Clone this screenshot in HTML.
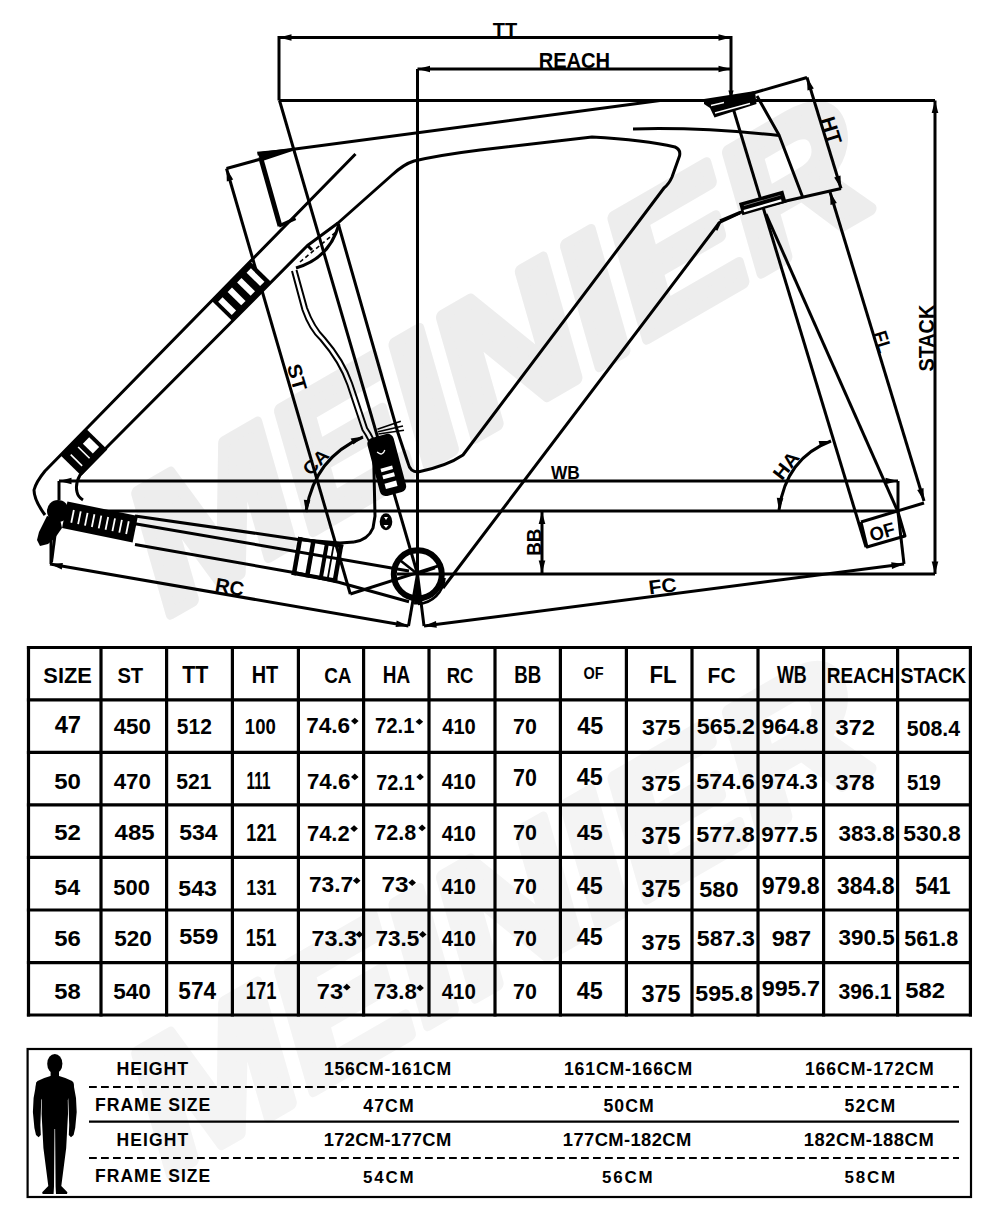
<!DOCTYPE html>
<html><head><meta charset="utf-8"><style>
html,body{margin:0;padding:0;background:#fff;}
body{width:1000px;height:1221px;overflow:hidden;position:relative;}
svg{position:absolute;left:0;top:0;font-family:"Liberation Sans",sans-serif;}
</style></head><body>
<svg width="1000" height="1221" viewBox="0 0 1000 1221">
<text transform="translate(160 620) rotate(-30) skewX(-14)" font-size="178" font-weight="bold" fill="#ededed" stroke="#ededed" stroke-width="11" stroke-linejoin="round" textLength="825" lengthAdjust="spacingAndGlyphs">MEINIER</text>
<text transform="translate(160 1180) rotate(-30) skewX(-14)" font-size="178" font-weight="bold" fill="#f4f4f4" stroke="#f4f4f4" stroke-width="11" stroke-linejoin="round" textLength="825" lengthAdjust="spacingAndGlyphs">MEINIER</text>
<g fill="none" stroke="#000" stroke-width="3.0" stroke-linejoin="round" stroke-linecap="butt">
<polyline points="279.0,37.5 731.0,37.5"/>
<path d="M279.0 37.5L291.5 34.2L291.5 40.8Z" fill="#000" stroke="none"/>
<path d="M731.0 37.5L718.5 40.8L718.5 34.2Z" fill="#000" stroke="none"/>
<polyline points="279.0,36.0 279.0,100.5"/>
<polyline points="417.5,69.0 731.0,69.0"/>
<path d="M417.5 69.0L430.0 65.7L430.0 72.3Z" fill="#000" stroke="none"/>
<path d="M731.0 69.0L718.5 72.3L718.5 65.7Z" fill="#000" stroke="none"/>
<polyline points="731.0,36.0 731.0,99.0"/>
<path d="M731.0 99.5L728.4 90.5L733.6 90.5Z" fill="#000" stroke="none"/>
<polyline points="417.5,69.0 417.5,574.0"/>
<polyline points="279.0,100.5 935.0,100.5"/>
<polyline points="935.0,100.5 935.0,574.0"/>
<path d="M935.0 100.5L938.3 113.0L931.7 113.0Z" fill="#000" stroke="none"/>
<path d="M935.0 574.0L931.7 561.5L938.3 561.5Z" fill="#000" stroke="none"/>
<polyline points="443.0,574.0 935.0,574.0"/>
<polyline points="279.5,100.5 417.5,574.0"/>
<polyline points="59.0,481.0 898.0,481.0"/>
<path d="M59.0 481.0L71.5 477.7L71.5 484.3Z" fill="#000" stroke="none"/>
<path d="M898.0 481.0L885.5 484.3L885.5 477.7Z" fill="#000" stroke="none"/>
<polyline points="59.0,481.0 59.0,500.0"/>
<polyline points="898.0,481.0 898.0,512.0"/>
<polyline points="60.0,511.0 898.0,511.0"/>
<polyline points="542.0,511.5 542.0,573.0"/>
<path d="M542.0 511.5L545.3 524.0L538.7 524.0Z" fill="#000" stroke="none"/>
<path d="M542.0 573.0L538.7 560.5L545.3 560.5Z" fill="#000" stroke="none"/>
<polyline points="807.0,77.5 841.0,188.5"/>
<path d="M807.0 77.5L813.8 88.5L807.5 90.4Z" fill="#000" stroke="none"/>
<path d="M841.0 188.5L834.2 177.5L840.5 175.6Z" fill="#000" stroke="none"/>
<polyline points="729.0,100.0 807.0,77.5"/>
<polyline points="830.0,192.0 924.0,501.0"/>
<path d="M830.0 192.0L836.8 203.0L830.5 204.9Z" fill="#000" stroke="none"/>
<path d="M924.0 501.0L917.2 490.0L923.5 488.1Z" fill="#000" stroke="none"/>
<polyline points="924.0,503.0 861.0,522.0"/>
<polyline points="861.0,522.0 867.0,547.0 905.0,536.0 898.0,512.0"/>
<polyline points="898.0,512.0 904.0,564.0"/>
<polyline points="424.0,626.0 904.0,564.0"/>
<path d="M424.0 626.0L436.0 621.1L436.8 627.7Z" fill="#000" stroke="none"/>
<path d="M904.0 564.0L892.0 568.9L891.2 562.3Z" fill="#000" stroke="none"/>
<polyline points="50.0,564.0 408.5,626.0"/>
<path d="M50.0 564.0L62.9 562.9L61.8 569.4Z" fill="#000" stroke="none"/>
<path d="M408.5 626.0L395.6 627.1L396.7 620.6Z" fill="#000" stroke="none"/>
<polyline points="51.0,538.0 51.0,564.0"/>
<polyline points="226.5,168.5 350.3,594.0"/>
<path d="M226.5 168.5L233.2 179.6L226.8 181.4Z" fill="#000" stroke="none"/>
<polyline points="226.5,168.5 259.0,159.5"/>
<polyline points="350.3,594.0 440.0,565.4"/>
<path d="M363,437 Q314,458 306,512"/>
<path d="M363.5 436.5L353.4 444.5L350.7 438.5Z" fill="#000" stroke="none"/>
<path d="M306.0 512.5L303.8 499.8L310.4 500.3Z" fill="#000" stroke="none"/>
<path d="M779,510 Q786,458 831,441"/>
<path d="M831.5 441.0L820.2 447.3L818.6 441.0Z" fill="#000" stroke="none"/>
<path d="M779.0 510.5L776.8 497.8L783.4 498.3Z" fill="#000" stroke="none"/>
<polyline points="257.5,154.0 660.0,100.5 712.0,100.5"/>
<polyline points="260.5,157.0 280.0,226.0" stroke-width="4.8"/>
<path d="M257,151.8 L292,148.4 L292.5,151 L261,161.5 Z" fill="#000" stroke="none"/>
<polyline points="279.0,226.0 295.5,218.5" stroke-width="3.5"/>
<path d="M338,223 L392,175 Q404,164 414,161 Q440,155 480,150 L592,137 Q645,140 675,147 Q681,149.5 679.5,156 L672,177 Q669,184 664,188 L463,455 Q447,466 418,472 Q410,472 408,463 L398,433 Z"/>
<path d="M355.5,154 L45,471 Q36,482 34,490 Q34,500 45,515"/>
<path d="M338,223 L307.5,245.5 L108,446 L80,475 Q75,484 77,492 Q78,497 83,500"/>
<path d="M296,268 Q330,258 339,224"/>
<path d="M300,262 L336,232" stroke-width="1.6" stroke-dasharray="4 3"/>
<polyline points="307.5,245.5 312.0,250.0"/>
<path d="M292,271 L302.5,310 Q309.5,330 320.5,340 Q339.5,362 347.5,385 L362.5,430 Q369.5,440 372,450" stroke-width="2.0"/>
<path d="M296.5,270 L307,308 Q314,327 325,338 Q344,360 352,383 L367,428 Q374,438 376.5,448" stroke-width="2.0"/>
<polyline points="135.0,516.0 298.0,539.4 340.0,543.0 354.0,542.0"/>
<path d="M354,542 Q368,540 373,528 L375,516 L373.5,450" stroke-width="3.0"/>
<polyline points="135.0,523.7 409.0,571.0"/>
<polyline points="135.0,544.5 298.0,573.2 338.6,582.3 409.0,601.8"/>
<polyline points="740.0,213.0 719.5,222.5 443.0,588.0"/>
<polyline points="719.5,222.5 716.0,230.0"/>
<path d="M633,129 Q700,127 779,135.6"/>
<polyline points="733.0,108.0 866.0,547.0"/>
<polyline points="757.0,96.0 779.0,135.0 803.0,198.0"/>
<polyline points="841.0,188.5 786.0,201.0 740.0,212.5 720.0,221.0"/>
<polyline points="766.0,214.0 898.0,512.0"/>
<path d="M704,99 L755,91 L756.5,104 L714.5,117.5 L710,108 L704,104 Z" fill="#000" stroke="none"/>
<path d="M715,113 L750,103.5" stroke="#fff" stroke-width="1.3"/>
<path d="M711,105.5 L724,102.5" stroke="#fff" stroke-width="1.3"/>
<g transform="translate(763 203.5) rotate(-16)" stroke="none"><rect x="-23" y="-7" width="46" height="12.5" fill="#000"/><rect x="-20.5" y="1" width="39" height="2.2" fill="#fff"/><rect x="-19" y="-3.5" width="38" height="0.7" fill="#888"/></g>
<circle cx="417.8" cy="574.3" r="24" stroke-width="6"/>
<path d="M444.5,578 A28,28 0 0 1 418,604" stroke-width="2.6"/>
<polyline points="401.0,561.0 417.5,574.0 435.0,568.0" stroke-width="2.6"/>
<polyline points="397.0,574.0 440.0,574.0" stroke-width="3.0"/>
<path d="M414,604 L417.5,574 L421,604 Z" stroke-width="1.0" fill="#000"/>
<polyline points="417.5,574.0 408.5,626.0"/>
<polyline points="417.5,574.0 424.0,626.0"/>
<circle cx="58" cy="511" r="11" fill="#000" stroke="none"/>
<path d="M47,516 L60,519 L62,528 L55,538 L48,544 L40,546 L37,540 L39,532 L43,524 Z" fill="#000" stroke="none"/>
<polyline points="55.0,535.0 51.5,562.0" stroke-width="3.0"/>
<g transform="translate(241.5 291.5) rotate(-45.5)" stroke="none"><rect x="-27.5" y="-14.5" width="55.0" height="29.0" fill="#000"/><rect x="-23.6" y="-9.5" width="6.2" height="19.0" fill="#fff"/><rect x="-10.1" y="-9.5" width="6.2" height="19.0" fill="#fff"/><rect x="3.4" y="-9.5" width="6.2" height="19.0" fill="#fff"/><rect x="16.9" y="-9.5" width="6.2" height="19.0" fill="#fff"/></g>
<g transform="translate(84 452.5) rotate(-45.5)" stroke="none"><rect x="-18.5" y="-14.5" width="37" height="29" fill="#000"/><rect x="5.5" y="-7" width="9" height="14" fill="#fff"/><rect x="-11.6" y="-8" width="1.6" height="16" fill="#fff"/><rect x="-1" y="-8" width="1.6" height="16" fill="#fff"/></g>
<g transform="translate(100.0 522.0) rotate(11.5)" stroke="none"><rect x="-36.0" y="-13.5" width="72.0" height="27.0" fill="#000"/><rect x="-28.9" y="-6.5" width="1.8" height="13.0" fill="#fff"/><rect x="-21.9" y="-6.5" width="1.8" height="13.0" fill="#fff"/><rect x="-14.9" y="-6.5" width="1.8" height="13.0" fill="#fff"/><rect x="-7.9" y="-6.5" width="1.8" height="13.0" fill="#fff"/><rect x="-0.9" y="-6.5" width="1.8" height="13.0" fill="#fff"/><rect x="6.1" y="-6.5" width="1.8" height="13.0" fill="#fff"/><rect x="13.1" y="-6.5" width="1.8" height="13.0" fill="#fff"/><rect x="20.1" y="-6.5" width="1.8" height="13.0" fill="#fff"/><rect x="27.1" y="-6.5" width="1.8" height="13.0" fill="#fff"/></g>
<g transform="translate(317.5 559.5) rotate(10)" stroke="none" fill="#000"><rect x="-23" y="-19" width="46" height="3.5"/><rect x="-23" y="15.5" width="46" height="4"/><rect x="-23" y="-19" width="4.5" height="38.5"/><rect x="-9.5" y="-19" width="4.5" height="38.5"/><rect x="4.5" y="-19" width="4" height="38.5"/><rect x="12.5" y="-19" width="1.8" height="38.5"/><rect x="18.5" y="-19" width="4.5" height="38.5"/></g>
<g transform="translate(386.5 464) rotate(-15)"><rect x="-13.5" y="-29" width="27" height="60" rx="6" fill="#000" stroke="none"/><rect x="-7" y="3" width="12" height="3.6" fill="#fff" stroke="none"/><rect x="-7" y="10" width="12" height="4" fill="#fff" stroke="none"/><rect x="-7" y="18.5" width="12" height="5.5" fill="#fff" stroke="none"/><path d="M-6,-14 q4,6 8,0" stroke="#fff" stroke-width="1.3"/></g>
<polyline points="377.4,429.2 400.8,421.2" stroke-width="1.6"/>
<polyline points="378.0,431.8 403.0,426.0" stroke-width="1.6"/>
<polyline points="378.4,434.0 404.0,430.2" stroke-width="1.6"/>
<ellipse cx="386" cy="521.8" rx="6.3" ry="8.5" fill="#000" stroke="none"/>
<path d="M384,517 L388,517 L386,520 Z M383.5,525 L388.5,525 L386,528 Z" fill="#fff" stroke="none"/>
</g>
<text transform="translate(505.0 30.0) rotate(0.0)" x="-12.22" y="7.00" font-size="20.35" textLength="24.44" lengthAdjust="spacingAndGlyphs" font-weight="bold" fill="#000" stroke="none">TT</text>
<text transform="translate(574.4 61.0) rotate(0.0)" x="-35.75" y="7.29" font-size="21.19" textLength="71.50" lengthAdjust="spacingAndGlyphs" font-weight="bold" fill="#000" stroke="none">REACH</text>
<text transform="translate(831.5 131.0) rotate(73.0)" x="-14.39" y="7.00" font-size="20.35" textLength="27.61" lengthAdjust="spacingAndGlyphs" font-weight="bold" fill="#000" stroke="none">HT</text>
<text transform="translate(926.0 338.0) rotate(-90.0)" x="-33.56" y="7.54" font-size="21.89" textLength="66.74" lengthAdjust="spacingAndGlyphs" font-weight="bold" fill="#000" stroke="none">STACK</text>
<text transform="translate(882.5 342.0) rotate(73.0)" x="-11.19" y="6.75" font-size="19.62" textLength="21.74" lengthAdjust="spacingAndGlyphs" font-weight="bold" fill="#000" stroke="none">FL</text>
<text transform="translate(882.2 531.8) rotate(-16.0)" x="-12.75" y="6.61" font-size="19.21" textLength="25.42" lengthAdjust="spacingAndGlyphs" font-weight="bold" fill="#000" stroke="none">OF</text>
<text transform="translate(565.0 472.5) rotate(0.0)" x="-14.02" y="6.50" font-size="18.90" textLength="28.80" lengthAdjust="spacingAndGlyphs" font-weight="bold" fill="#000" stroke="none">WB</text>
<text transform="translate(533.5 542.0) rotate(-90.0)" x="-13.76" y="7.15" font-size="20.79" textLength="27.11" lengthAdjust="spacingAndGlyphs" font-weight="bold" fill="#000" stroke="none">BB</text>
<text transform="translate(663.0 586.0) rotate(-7.0)" x="-14.40" y="6.81" font-size="19.77" textLength="27.98" lengthAdjust="spacingAndGlyphs" font-weight="bold" fill="#000" stroke="none">FC</text>
<text transform="translate(230.0 587.0) rotate(10.0)" x="-14.84" y="6.81" font-size="19.77" textLength="28.88" lengthAdjust="spacingAndGlyphs" font-weight="bold" fill="#000" stroke="none">RC</text>
<text transform="translate(297.0 377.5) rotate(73.7)" x="-13.60" y="6.81" font-size="19.77" textLength="26.83" lengthAdjust="spacingAndGlyphs" font-weight="bold" fill="#000" stroke="none">ST</text>
<text transform="translate(316.0 462.0) rotate(-45.0)" x="-14.30" y="6.32" font-size="18.36" textLength="28.32" lengthAdjust="spacingAndGlyphs" font-weight="bold" fill="#000" stroke="none">CA</text>
<text transform="translate(786.4 465.2) rotate(-52.0)" x="-15.39" y="6.50" font-size="18.90" textLength="29.93" lengthAdjust="spacingAndGlyphs" font-weight="bold" fill="#000" stroke="none">HA</text>
<g stroke="#000" stroke-width="3.2"><line x1="28.5" y1="645.9" x2="28.5" y2="1016.6"/><line x1="101.0" y1="645.9" x2="101.0" y2="1016.6"/><line x1="166.6" y1="645.9" x2="166.6" y2="1016.6"/><line x1="232.4" y1="645.9" x2="232.4" y2="1016.6"/><line x1="298.4" y1="645.9" x2="298.4" y2="1016.6"/><line x1="363.6" y1="645.9" x2="363.6" y2="1016.6"/><line x1="429.0" y1="645.9" x2="429.0" y2="1016.6"/><line x1="495.0" y1="645.9" x2="495.0" y2="1016.6"/><line x1="560.4" y1="645.9" x2="560.4" y2="1016.6"/><line x1="626.4" y1="645.9" x2="626.4" y2="1016.6"/><line x1="692.0" y1="645.9" x2="692.0" y2="1016.6"/><line x1="758.0" y1="645.9" x2="758.0" y2="1016.6"/><line x1="823.6" y1="645.9" x2="823.6" y2="1016.6"/><line x1="897.6" y1="645.9" x2="897.6" y2="1016.6"/><line x1="970.4" y1="645.9" x2="970.4" y2="1016.6"/><line x1="26.9" y1="647.5" x2="972.0" y2="647.5"/><line x1="26.9" y1="699.8" x2="972.0" y2="699.8"/><line x1="26.9" y1="752.3" x2="972.0" y2="752.3"/><line x1="26.9" y1="804.8" x2="972.0" y2="804.8"/><line x1="26.9" y1="857.3" x2="972.0" y2="857.3"/><line x1="26.9" y1="910.0" x2="972.0" y2="910.0"/><line x1="26.9" y1="962.6" x2="972.0" y2="962.6"/><line x1="26.9" y1="1015.0" x2="972.0" y2="1015.0"/></g>
<text x="43.37" y="682.78" font-size="22.60" textLength="48.48" lengthAdjust="spacingAndGlyphs" font-weight="bold" fill="#000">SIZE</text>
<text x="117.42" y="682.78" font-size="22.60" textLength="25.80" lengthAdjust="spacingAndGlyphs" font-weight="bold" fill="#000">ST</text>
<text x="182.16" y="683.00" font-size="23.26" textLength="26.07" lengthAdjust="spacingAndGlyphs" font-weight="bold" fill="#000">TT</text>
<text x="251.67" y="683.00" font-size="23.26" textLength="26.55" lengthAdjust="spacingAndGlyphs" font-weight="bold" fill="#000">HT</text>
<text x="324.23" y="682.78" font-size="22.60" textLength="27.27" lengthAdjust="spacingAndGlyphs" font-weight="bold" fill="#000">CA</text>
<text x="382.73" y="683.00" font-size="23.26" textLength="27.37" lengthAdjust="spacingAndGlyphs" font-weight="bold" fill="#000">HA</text>
<text x="446.76" y="682.78" font-size="22.60" textLength="26.75" lengthAdjust="spacingAndGlyphs" font-weight="bold" fill="#000">RC</text>
<text x="514.35" y="683.00" font-size="23.26" textLength="26.89" lengthAdjust="spacingAndGlyphs" font-weight="bold" fill="#000">BB</text>
<text x="649.51" y="683.00" font-size="23.26" textLength="27.17" lengthAdjust="spacingAndGlyphs" font-weight="bold" fill="#000">FL</text>
<text x="707.60" y="682.78" font-size="22.60" textLength="27.98" lengthAdjust="spacingAndGlyphs" font-weight="bold" fill="#000">FC</text>
<text x="776.98" y="683.00" font-size="23.26" textLength="29.83" lengthAdjust="spacingAndGlyphs" font-weight="bold" fill="#000">WB</text>
<text x="826.73" y="682.78" font-size="22.60" textLength="67.55" lengthAdjust="spacingAndGlyphs" font-weight="bold" fill="#000">REACH</text>
<text x="900.45" y="682.78" font-size="22.60" textLength="65.73" lengthAdjust="spacingAndGlyphs" font-weight="bold" fill="#000">STACK</text>
<text x="583.41" y="679.34" font-size="16.24" textLength="20.13" lengthAdjust="spacingAndGlyphs" font-weight="bold" fill="#000">OF</text>
<text x="54.64" y="733.40" font-size="23.84" textLength="26.40" lengthAdjust="spacingAndGlyphs" font-weight="bold" fill="#000">47</text>
<text x="113.66" y="733.78" font-size="22.88" textLength="37.25" lengthAdjust="spacingAndGlyphs" font-weight="bold" fill="#000">450</text>
<text x="176.85" y="733.78" font-size="22.88" textLength="34.98" lengthAdjust="spacingAndGlyphs" font-weight="bold" fill="#000">512</text>
<text x="244.83" y="733.78" font-size="22.88" textLength="30.93" lengthAdjust="spacingAndGlyphs" font-weight="bold" fill="#000">100</text>
<text x="306.23" y="732.78" font-size="22.32" textLength="43.78" lengthAdjust="spacingAndGlyphs" font-weight="bold" fill="#000">74.6</text>
<text x="375.03" y="733.00" font-size="22.63" textLength="39.43" lengthAdjust="spacingAndGlyphs" font-weight="bold" fill="#000">72.1</text>
<text x="442.19" y="733.78" font-size="22.88" textLength="33.63" lengthAdjust="spacingAndGlyphs" font-weight="bold" fill="#000">410</text>
<text x="513.08" y="733.78" font-size="22.88" textLength="23.80" lengthAdjust="spacingAndGlyphs" font-weight="bold" fill="#000">70</text>
<text x="577.15" y="733.77" font-size="23.65" textLength="26.00" lengthAdjust="spacingAndGlyphs" font-weight="bold" fill="#000">45</text>
<text x="641.97" y="735.24" font-size="22.83" textLength="38.68" lengthAdjust="spacingAndGlyphs" font-weight="bold" fill="#000">375</text>
<text x="696.79" y="734.28" font-size="22.88" textLength="58.15" lengthAdjust="spacingAndGlyphs" font-weight="bold" fill="#000">565.2</text>
<text x="761.72" y="734.28" font-size="22.88" textLength="56.48" lengthAdjust="spacingAndGlyphs" font-weight="bold" fill="#000">964.8</text>
<text x="835.46" y="735.24" font-size="22.83" textLength="39.49" lengthAdjust="spacingAndGlyphs" font-weight="bold" fill="#000">372</text>
<text x="906.85" y="735.78" font-size="22.60" textLength="53.27" lengthAdjust="spacingAndGlyphs" font-weight="bold" fill="#000">508.4</text>
<text x="54.26" y="788.78" font-size="22.88" textLength="26.72" lengthAdjust="spacingAndGlyphs" font-weight="bold" fill="#000">50</text>
<text x="113.66" y="788.78" font-size="22.88" textLength="37.25" lengthAdjust="spacingAndGlyphs" font-weight="bold" fill="#000">470</text>
<text x="176.35" y="788.78" font-size="22.88" textLength="35.24" lengthAdjust="spacingAndGlyphs" font-weight="bold" fill="#000">521</text>
<text x="246.60" y="789.00" font-size="23.55" textLength="23.80" lengthAdjust="spacingAndGlyphs" font-weight="bold" fill="#000">111</text>
<text x="306.94" y="789.38" font-size="22.32" textLength="43.36" lengthAdjust="spacingAndGlyphs" font-weight="bold" fill="#000">74.6</text>
<text x="376.35" y="789.60" font-size="22.63" textLength="38.40" lengthAdjust="spacingAndGlyphs" font-weight="bold" fill="#000">72.1</text>
<text x="441.69" y="789.28" font-size="22.88" textLength="34.15" lengthAdjust="spacingAndGlyphs" font-weight="bold" fill="#000">410</text>
<text x="513.08" y="786.27" font-size="23.30" textLength="23.80" lengthAdjust="spacingAndGlyphs" font-weight="bold" fill="#000">70</text>
<text x="576.65" y="785.27" font-size="23.22" textLength="26.00" lengthAdjust="spacingAndGlyphs" font-weight="bold" fill="#000">45</text>
<text x="641.46" y="791.24" font-size="22.83" textLength="39.19" lengthAdjust="spacingAndGlyphs" font-weight="bold" fill="#000">375</text>
<text x="696.28" y="788.78" font-size="22.88" textLength="58.57" lengthAdjust="spacingAndGlyphs" font-weight="bold" fill="#000">574.6</text>
<text x="761.22" y="788.74" font-size="22.83" textLength="56.60" lengthAdjust="spacingAndGlyphs" font-weight="bold" fill="#000">974.3</text>
<text x="835.46" y="790.24" font-size="22.83" textLength="39.26" lengthAdjust="spacingAndGlyphs" font-weight="bold" fill="#000">378</text>
<text x="906.88" y="790.28" font-size="22.88" textLength="33.88" lengthAdjust="spacingAndGlyphs" font-weight="bold" fill="#000">519</text>
<text x="54.26" y="840.28" font-size="22.88" textLength="26.70" lengthAdjust="spacingAndGlyphs" font-weight="bold" fill="#000">52</text>
<text x="114.64" y="840.28" font-size="22.88" textLength="40.03" lengthAdjust="spacingAndGlyphs" font-weight="bold" fill="#000">485</text>
<text x="179.29" y="840.24" font-size="22.83" textLength="38.33" lengthAdjust="spacingAndGlyphs" font-weight="bold" fill="#000">534</text>
<text x="246.36" y="840.50" font-size="23.20" textLength="30.14" lengthAdjust="spacingAndGlyphs" font-weight="bold" fill="#000">121</text>
<text x="306.96" y="840.70" font-size="22.06" textLength="42.72" lengthAdjust="spacingAndGlyphs" font-weight="bold" fill="#000">74.2</text>
<text x="374.28" y="840.49" font-size="21.75" textLength="41.89" lengthAdjust="spacingAndGlyphs" font-weight="bold" fill="#000">72.8</text>
<text x="441.69" y="841.28" font-size="22.88" textLength="34.15" lengthAdjust="spacingAndGlyphs" font-weight="bold" fill="#000">410</text>
<text x="513.08" y="839.78" font-size="22.60" textLength="23.80" lengthAdjust="spacingAndGlyphs" font-weight="bold" fill="#000">70</text>
<text x="576.65" y="839.78" font-size="22.93" textLength="26.00" lengthAdjust="spacingAndGlyphs" font-weight="bold" fill="#000">45</text>
<text x="641.46" y="843.74" font-size="23.26" textLength="39.19" lengthAdjust="spacingAndGlyphs" font-weight="bold" fill="#000">375</text>
<text x="696.28" y="842.28" font-size="22.88" textLength="58.44" lengthAdjust="spacingAndGlyphs" font-weight="bold" fill="#000">577.8</text>
<text x="761.22" y="842.28" font-size="22.88" textLength="56.41" lengthAdjust="spacingAndGlyphs" font-weight="bold" fill="#000">977.5</text>
<text x="838.48" y="841.24" font-size="22.83" textLength="56.21" lengthAdjust="spacingAndGlyphs" font-weight="bold" fill="#000">383.8</text>
<text x="903.29" y="841.24" font-size="22.83" textLength="57.41" lengthAdjust="spacingAndGlyphs" font-weight="bold" fill="#000">530.8</text>
<text x="54.29" y="894.78" font-size="22.93" textLength="25.84" lengthAdjust="spacingAndGlyphs" font-weight="bold" fill="#000">54</text>
<text x="113.33" y="894.78" font-size="22.60" textLength="36.57" lengthAdjust="spacingAndGlyphs" font-weight="bold" fill="#000">500</text>
<text x="178.29" y="895.75" font-size="22.55" textLength="38.55" lengthAdjust="spacingAndGlyphs" font-weight="bold" fill="#000">543</text>
<text x="246.36" y="894.75" font-size="22.55" textLength="30.14" lengthAdjust="spacingAndGlyphs" font-weight="bold" fill="#000">131</text>
<text x="308.92" y="892.35" font-size="22.41" textLength="44.17" lengthAdjust="spacingAndGlyphs" font-weight="bold" fill="#000">73.7</text>
<text x="381.46" y="892.35" font-size="22.41" textLength="27.02" lengthAdjust="spacingAndGlyphs" font-weight="bold" fill="#000">73</text>
<text x="441.69" y="894.28" font-size="22.88" textLength="34.15" lengthAdjust="spacingAndGlyphs" font-weight="bold" fill="#000">410</text>
<text x="513.08" y="893.78" font-size="22.88" textLength="23.80" lengthAdjust="spacingAndGlyphs" font-weight="bold" fill="#000">70</text>
<text x="576.65" y="893.77" font-size="23.65" textLength="26.00" lengthAdjust="spacingAndGlyphs" font-weight="bold" fill="#000">45</text>
<text x="641.46" y="897.24" font-size="23.26" textLength="39.19" lengthAdjust="spacingAndGlyphs" font-weight="bold" fill="#000">375</text>
<text x="699.28" y="897.29" font-size="21.19" textLength="39.19" lengthAdjust="spacingAndGlyphs" font-weight="bold" fill="#000">580</text>
<text x="761.70" y="893.77" font-size="23.30" textLength="58.02" lengthAdjust="spacingAndGlyphs" font-weight="bold" fill="#000">979.8</text>
<text x="836.97" y="893.74" font-size="23.26" textLength="57.74" lengthAdjust="spacingAndGlyphs" font-weight="bold" fill="#000">384.8</text>
<text x="915.35" y="893.77" font-size="23.65" textLength="35.24" lengthAdjust="spacingAndGlyphs" font-weight="bold" fill="#000">541</text>
<text x="54.26" y="946.28" font-size="22.88" textLength="26.60" lengthAdjust="spacingAndGlyphs" font-weight="bold" fill="#000">56</text>
<text x="114.31" y="946.28" font-size="22.88" textLength="37.62" lengthAdjust="spacingAndGlyphs" font-weight="bold" fill="#000">520</text>
<text x="179.28" y="943.78" font-size="22.88" textLength="39.09" lengthAdjust="spacingAndGlyphs" font-weight="bold" fill="#000">559</text>
<text x="245.84" y="946.27" font-size="23.22" textLength="30.67" lengthAdjust="spacingAndGlyphs" font-weight="bold" fill="#000">151</text>
<text x="311.50" y="945.65" font-size="22.69" textLength="45.45" lengthAdjust="spacingAndGlyphs" font-weight="bold" fill="#000">73.3</text>
<text x="375.53" y="945.65" font-size="22.69" textLength="43.90" lengthAdjust="spacingAndGlyphs" font-weight="bold" fill="#000">73.5</text>
<text x="441.69" y="946.28" font-size="22.88" textLength="34.15" lengthAdjust="spacingAndGlyphs" font-weight="bold" fill="#000">410</text>
<text x="513.08" y="946.28" font-size="22.88" textLength="23.80" lengthAdjust="spacingAndGlyphs" font-weight="bold" fill="#000">70</text>
<text x="576.65" y="945.27" font-size="23.22" textLength="26.00" lengthAdjust="spacingAndGlyphs" font-weight="bold" fill="#000">45</text>
<text x="641.46" y="950.24" font-size="22.83" textLength="39.19" lengthAdjust="spacingAndGlyphs" font-weight="bold" fill="#000">375</text>
<text x="696.79" y="946.24" font-size="22.83" textLength="58.05" lengthAdjust="spacingAndGlyphs" font-weight="bold" fill="#000">587.3</text>
<text x="771.68" y="945.78" font-size="22.60" textLength="39.35" lengthAdjust="spacingAndGlyphs" font-weight="bold" fill="#000">987</text>
<text x="838.49" y="945.24" font-size="22.83" textLength="56.14" lengthAdjust="spacingAndGlyphs" font-weight="bold" fill="#000">390.5</text>
<text x="904.34" y="946.28" font-size="22.88" textLength="53.82" lengthAdjust="spacingAndGlyphs" font-weight="bold" fill="#000">561.8</text>
<text x="54.27" y="998.78" font-size="22.88" textLength="26.46" lengthAdjust="spacingAndGlyphs" font-weight="bold" fill="#000">58</text>
<text x="113.31" y="998.78" font-size="22.88" textLength="37.62" lengthAdjust="spacingAndGlyphs" font-weight="bold" fill="#000">540</text>
<text x="178.30" y="998.77" font-size="23.22" textLength="37.82" lengthAdjust="spacingAndGlyphs" font-weight="bold" fill="#000">574</text>
<text x="245.84" y="999.00" font-size="23.55" textLength="30.67" lengthAdjust="spacingAndGlyphs" font-weight="bold" fill="#000">171</text>
<text x="316.79" y="998.85" font-size="22.27" textLength="26.27" lengthAdjust="spacingAndGlyphs" font-weight="bold" fill="#000">73</text>
<text x="373.65" y="998.85" font-size="22.27" textLength="43.13" lengthAdjust="spacingAndGlyphs" font-weight="bold" fill="#000">73.8</text>
<text x="441.69" y="998.78" font-size="22.88" textLength="34.15" lengthAdjust="spacingAndGlyphs" font-weight="bold" fill="#000">410</text>
<text x="513.08" y="998.78" font-size="22.88" textLength="23.80" lengthAdjust="spacingAndGlyphs" font-weight="bold" fill="#000">70</text>
<text x="576.65" y="998.77" font-size="23.65" textLength="26.00" lengthAdjust="spacingAndGlyphs" font-weight="bold" fill="#000">45</text>
<text x="641.46" y="1002.24" font-size="23.26" textLength="39.19" lengthAdjust="spacingAndGlyphs" font-weight="bold" fill="#000">375</text>
<text x="695.29" y="1001.28" font-size="22.88" textLength="57.92" lengthAdjust="spacingAndGlyphs" font-weight="bold" fill="#000">595.8</text>
<text x="761.69" y="996.28" font-size="22.88" textLength="58.33" lengthAdjust="spacingAndGlyphs" font-weight="bold" fill="#000">995.7</text>
<text x="838.51" y="998.74" font-size="22.83" textLength="53.08" lengthAdjust="spacingAndGlyphs" font-weight="bold" fill="#000">396.1</text>
<text x="905.27" y="997.79" font-size="21.89" textLength="39.68" lengthAdjust="spacingAndGlyphs" font-weight="bold" fill="#000">582</text>
<path d="M354.8 717.7l3.8 3.4 -3.8 3.3 -3.8 -3.3z"/>
<path d="M419.4 718.4l3.8 3.4 -3.8 3.3 -3.8 -3.3z"/>
<path d="M354.8 773.6l3.8 3.4 -3.8 3.3 -3.8 -3.3z"/>
<path d="M420.1 773.6l3.8 3.4 -3.8 3.3 -3.8 -3.3z"/>
<path d="M354.1 825.2l3.8 3.4 -3.8 3.3 -3.8 -3.3z"/>
<path d="M422.1 824.5l3.8 3.4 -3.8 3.3 -3.8 -3.3z"/>
<path d="M356.7 877.3l3.8 3.4 -3.8 3.3 -3.8 -3.3z"/>
<path d="M412.2 879.3l3.8 3.4 -3.8 3.3 -3.8 -3.3z"/>
<path d="M359.4 931.0l3.8 3.4 -3.8 3.3 -3.8 -3.3z"/>
<path d="M422.7 931.0l3.8 3.4 -3.8 3.3 -3.8 -3.3z"/>
<path d="M346.8 983.8l3.8 3.4 -3.8 3.3 -3.8 -3.3z"/>
<path d="M420.1 984.5l3.8 3.4 -3.8 3.3 -3.8 -3.3z"/>
<rect x="27.6" y="1049" width="943.4" height="148" fill="none" stroke="#000" stroke-width="2.2"/>
<g stroke="#000" stroke-width="2.2"><line x1="89" y1="1087" x2="959" y2="1087" stroke-dasharray="7.8 4.2"/><line x1="89" y1="1121.7" x2="959" y2="1121.7"/><line x1="89" y1="1158" x2="959" y2="1158" stroke-dasharray="7.8 4.2"/></g>
<text x="116.41" y="1075.43" font-size="17.80" letter-spacing="0.91" font-weight="bold" fill="#000">HEIGHT</text>
<text x="95.02" y="1111.33" font-size="17.66" letter-spacing="0.93" font-weight="bold" fill="#000">FRAME SIZE</text>
<text x="116.43" y="1146.23" font-size="17.51" letter-spacing="1.12" font-weight="bold" fill="#000">HEIGHT</text>
<text x="95.03" y="1182.23" font-size="17.51" letter-spacing="1.02" font-weight="bold" fill="#000">FRAME SIZE</text>
<text x="323.89" y="1074.83" font-size="17.66" letter-spacing="0.76" font-weight="bold" fill="#000">156CM-161CM</text>
<text x="563.89" y="1074.83" font-size="17.66" letter-spacing="0.86" font-weight="bold" fill="#000">161CM-166CM</text>
<text x="804.89" y="1074.83" font-size="17.66" letter-spacing="0.91" font-weight="bold" fill="#000">166CM-172CM</text>
<text x="363.23" y="1112.33" font-size="17.66" letter-spacing="1.12" font-weight="bold" fill="#000">47CM</text>
<text x="603.46" y="1112.33" font-size="17.66" letter-spacing="1.04" font-weight="bold" fill="#000">50CM</text>
<text x="844.46" y="1112.33" font-size="17.66" letter-spacing="1.21" font-weight="bold" fill="#000">52CM</text>
<text x="323.84" y="1145.82" font-size="18.36" letter-spacing="0.29" font-weight="bold" fill="#000">172CM-177CM</text>
<text x="562.84" y="1145.82" font-size="18.36" letter-spacing="0.39" font-weight="bold" fill="#000">177CM-182CM</text>
<text x="803.84" y="1145.82" font-size="18.36" letter-spacing="0.54" font-weight="bold" fill="#000">182CM-188CM</text>
<text x="362.98" y="1183.33" font-size="16.95" letter-spacing="1.81" font-weight="bold" fill="#000">54CM</text>
<text x="601.98" y="1183.33" font-size="16.95" letter-spacing="1.81" font-weight="bold" fill="#000">56CM</text>
<text x="844.48" y="1183.33" font-size="16.95" letter-spacing="1.81" font-weight="bold" fill="#000">58CM</text>
<g fill="#000">
<ellipse cx="54.8" cy="1063.8" rx="7.6" ry="9.8"/>
<rect x="50.6" y="1070" width="8.4" height="8"/>
<path d="M50.5,1076 Q43,1078 37.5,1081 Q35,1083 36,1090 L41.8,1100 L41.6,1114 L43.4,1148 L48.3,1186 L42.2,1192.3 L42.6,1194 L53.6,1194 L54,1186.5 L54.5,1129 L55.1,1129 L55.6,1186.5 L56,1194 L67,1194 L67.4,1192.3 L61.3,1186 L66.2,1148 L68,1114 L67.8,1100 L73.6,1090 Q74.6,1083 72.1,1081 Q66.6,1078 59.1,1076 Z"/>
<path d="M36.5,1082 L33.6,1098 L32.9,1112 L34.4,1128 L36,1135 L38.6,1137.2 L40.8,1135 L40.4,1125 L40.9,1110 L41.3,1099 L40,1088 Z"/>
<path d="M73.1,1082 L76,1098 L76.7,1112 L75.2,1128 L73.6,1135 L71,1137.2 L68.8,1135 L69.2,1125 L68.7,1110 L68.3,1099 L69.6,1088 Z"/>
</g>
</svg>
</body></html>
